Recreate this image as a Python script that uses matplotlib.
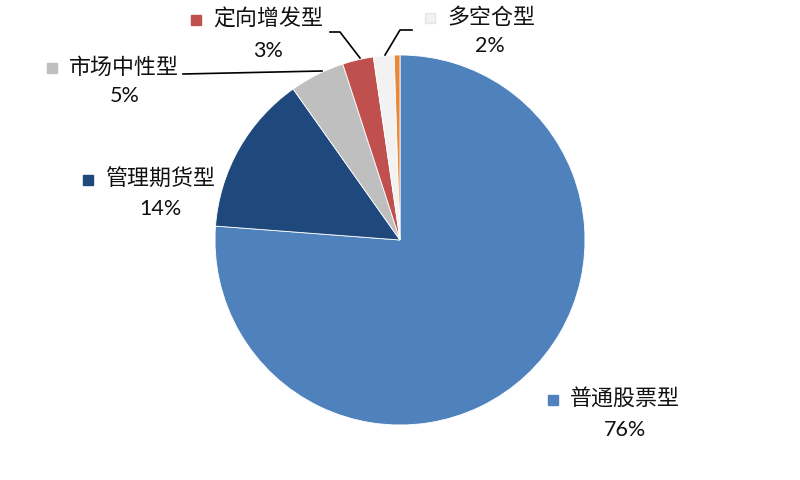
import matplotlib
matplotlib.use("Agg")
import matplotlib.pyplot as plt

categories = ["普通股票型", "管理期货型", "市场中性型", "定向增发型", "多空仓型", "其他"]
values = [76.2, 14.0, 4.8, 2.7, 1.8, 0.5]
colors = ["#4F81BD", "#1F497D", "#BFBFBF", "#C0504D", "#F2F2F2", "#E8883A"]
show_label = [True, True, True, True, True, False]

# label layout in pixel coordinates (x, y from top) : name anchor, pct anchor
label_pos = {
    "普通股票型": ((553, 400), (625, 430)),
    "管理期货型": ((88, 180), (160, 209)),
    "市场中性型": ((52, 68), (125, 96)),
    "定向增发型": ((196, 20), (268, 51)),
    "多空仓型": ((430, 18), (490, 46)),
}
leaders = {
    "市场中性型": [(183, 74), (322, 71)],
    "定向增发型": [(330, 32), (340, 32), (360, 58)],
    "多空仓型": [(412, 30), (400, 30), (385, 55)],
}

W, H = 800, 480
fig = plt.figure(figsize=(8, 4.8), dpi=100)
ax = fig.add_axes([0, 0, 1, 1])
ax.set_xlim(0, W)
ax.set_ylim(0, H)
ax.set_aspect("equal")
ax.axis("off")

ax.pie(values, colors=colors, startangle=90, counterclock=False,
       center=(400, 240), radius=185,
       wedgeprops=dict(edgecolor="white", linewidth=0.6))
ax.set_xlim(0, W)
ax.set_ylim(0, H)

cjk = ["Noto Sans CJK SC", "DejaVu Sans"]
total = sum(values)
for cat, val, col, show in zip(categories, values, colors, show_label):
    if not show:
        continue
    (nx, ny), (px, py) = label_pos[cat]
    ax.plot([nx], [H - ny], marker="s", markersize=6.5, color=col,
            markeredgecolor=col if col != "#F2F2F2" else "#E6E6E6", linestyle="none")
    ax.text(nx + 17, H - ny, cat, fontsize=15.8, family=cjk, color="#111111",
            ha="left", va="center")
    ax.text(px, H - py, f"{round(val / total * 100):d}%", fontsize=15.5,
            family=["Lato", "DejaVu Sans"], color="#111111", ha="center", va="center")

for cat, pts in leaders.items():
    xs = [p[0] for p in pts]
    ys = [H - p[1] for p in pts]
    ax.plot(xs, ys, color="black", linewidth=1.2)

fig.savefig("out.png", dpi=100)
